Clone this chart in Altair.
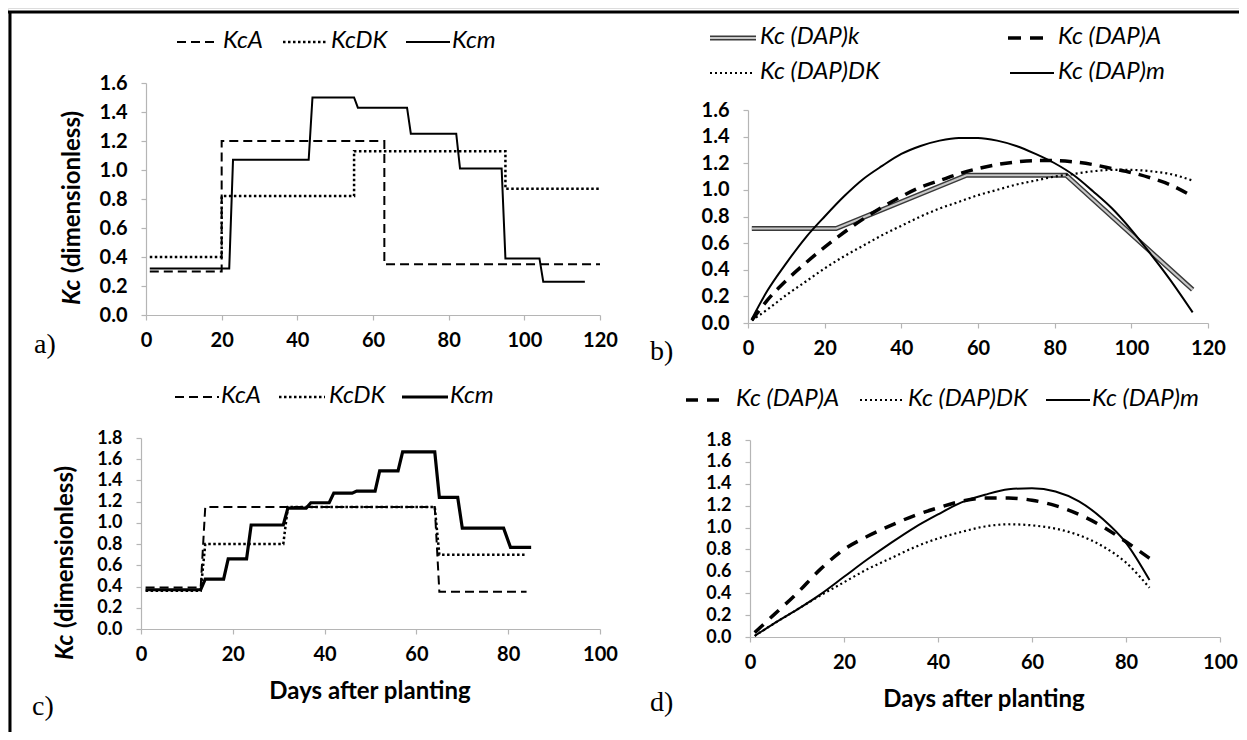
import altair as alt
import pandas as pd

# ---------------- data ----------------
# a) step Kc curves
a_kca_day = [1, 20, 20, 63, 63, 120]
a_kca_val = [0.30, 0.30, 1.20, 1.20, 0.35, 0.35]
a_kcdk_day = [1, 20, 20, 55, 55, 95, 95, 120]
a_kcdk_val = [0.40, 0.40, 0.82, 0.82, 1.13, 1.13, 0.87, 0.87]
a_kcm_day = [1, 22, 23, 43, 44, 55, 56, 69, 70, 82, 83, 94, 95, 104, 105, 116]
a_kcm_val = [0.32, 0.32, 1.07, 1.07, 1.50, 1.50, 1.43, 1.43, 1.25, 1.25,
             1.01, 1.01, 0.39, 0.39, 0.23, 0.23]

# b) Kc(DAP) curves
b_k_day = [1, 23, 57, 83, 116]
b_k_val = [0.71, 0.71, 1.11, 1.11, 0.25]
b_day = [1, 5, 10, 15, 20, 25, 30, 35, 40, 45, 50, 55, 60, 65, 70, 75, 80, 85,
         90, 95, 100, 105, 110, 116]
b_m_val = [0.03, 0.24, 0.45, 0.64, 0.80, 0.95, 1.08, 1.18, 1.27, 1.33, 1.37, 1.39,
           1.39, 1.37, 1.33, 1.27, 1.20, 1.11, 0.99, 0.86, 0.70, 0.52, 0.33, 0.08]
b_a_val = [0.02, 0.17, 0.32, 0.45, 0.57, 0.68, 0.78, 0.87, 0.95, 1.02, 1.07, 1.12,
           1.16, 1.19, 1.21, 1.22, 1.22, 1.21, 1.19, 1.16, 1.13, 1.09, 1.04, 0.95]
b_dk_val = [0.02, 0.10, 0.21, 0.31, 0.41, 0.50, 0.58, 0.66, 0.73, 0.80, 0.86, 0.91,
            0.96, 1.00, 1.04, 1.07, 1.10, 1.12, 1.14, 1.15, 1.15, 1.14, 1.12, 1.07]

# c) step Kc curves
c_kca_day = [1, 13, 14, 64, 65, 84]
c_kca_val = [0.39, 0.39, 1.15, 1.15, 0.35, 0.35]
c_kcdk_day = [1, 13, 14, 31, 32, 64, 65, 84]
c_kcdk_val = [0.36, 0.36, 0.80, 0.80, 1.15, 1.15, 0.70, 0.70]
c_kcm_day = [1, 13, 14, 18, 19, 23, 24, 31, 32, 36, 37, 41, 42, 46, 47, 51, 52, 56,
             57, 64, 65, 69, 70, 79, 80.5, 85]
c_kcm_val = [0.37, 0.37, 0.47, 0.47, 0.66, 0.66, 0.98, 0.98, 1.14, 1.14, 1.19, 1.19,
             1.28, 1.28, 1.30, 1.30, 1.49, 1.49, 1.67, 1.67, 1.24, 1.24, 0.95, 0.95,
             0.77, 0.77]

# d) Kc(DAP) curves
d_day = [1, 5, 10, 15, 20, 25, 30, 35, 40, 45, 50, 55, 60, 65, 70, 75, 80, 85]
d_a_val = [0.04, 0.20, 0.40, 0.62, 0.80, 0.92, 1.02, 1.11, 1.18, 1.24, 1.27, 1.27,
           1.25, 1.20, 1.12, 1.01, 0.87, 0.72]
d_m_val = [0.01, 0.12, 0.25, 0.39, 0.55, 0.71, 0.86, 1.00, 1.12, 1.23, 1.30, 1.35,
           1.36, 1.33, 1.24, 1.08, 0.86, 0.52]
d_dk_val = [0.01, 0.12, 0.25, 0.38, 0.50, 0.62, 0.72, 0.82, 0.90, 0.96, 1.01, 1.03,
            1.02, 0.99, 0.93, 0.83, 0.68, 0.45]

# axis ticks
ticks_120 = [0, 20, 40, 60, 80, 100, 120]
ticks_100 = [0, 20, 40, 60, 80, 100]
ticks_16 = [0.0, 0.2, 0.4, 0.6, 0.8, 1.0, 1.2, 1.4, 1.6]
ticks_18 = [0.0, 0.2, 0.4, 0.6, 0.8, 1.0, 1.2, 1.4, 1.6, 1.8]

# labels
leg_ac = ["KcA", "KcDK", "Kcm"]
leg_b = ["Kc (DAP)k", "Kc (DAP)A", "Kc (DAP)DK", "Kc (DAP)m"]
leg_d = ["Kc (DAP)A", "Kc (DAP)DK", "Kc (DAP)m"]
x_title = "Days after planting"
panel_tags = ["a)", "b)", "c)", "d)"]

# ---------------- layout / style ----------------
W, H = 1231, 724
FONT = "Lato"
GRAY = "#b5b5b5"
BLACK = "#000000"
ONE = pd.DataFrame({"k": [0]})

AX = dict(domainColor=GRAY, tickColor=GRAY, tickSize=5, domainWidth=1.2, tickWidth=1.2,
          labelFont=FONT, labelFontWeight="bold", labelColor=BLACK,
          grid=False, title=None, labelOverlap=False)


def panel(series, xdom, xr, xticks, xoff, ydom, yr, yticks, yoff, ylab=20):
    xs = alt.Scale(domain=xdom, range=xr, nice=False, zero=False)
    ys = alt.Scale(domain=ydom, range=yr, nice=False, zero=False)
    xa = alt.Axis(orient="bottom", offset=xoff, values=xticks, format="d",
                  labelFlush=False, labelPadding=10, labelFontSize=20, **AX)
    ya = alt.Axis(orient="left", offset=yoff, values=yticks, format=".1f",
                  labelPadding=14, labelFontSize=ylab, **AX)
    layers = []
    for days, vals, style in series:
        d = pd.DataFrame({"day": days, "kc": vals, "i": list(range(len(days)))})
        layers.append(
            alt.Chart(d).mark_line(**style).encode(
                x=alt.X("day:Q", scale=xs, axis=xa),
                y=alt.Y("kc:Q", scale=ys, axis=ya),
                order=alt.Order("i:Q"),
            )
        )
    return alt.layer(*layers)


def lrule(x1, x2, y, width=2.0, dash=None, color=BLACK):
    kw = dict(color=color, strokeWidth=width, strokeCap="butt")
    if dash:
        kw["strokeDash"] = dash
    return alt.Chart(ONE).mark_rule(**kw).encode(
        x=alt.value(x1), x2=alt.value(x2), y=alt.value(y))


def vrule(x, y1, y2, width=2.0, color=BLACK):
    return alt.Chart(ONE).mark_rule(color=color, strokeWidth=width).encode(
        x=alt.value(x), y=alt.value(y1), y2=alt.value(y2))


def txt(x, y, s, size=24, style="italic", weight="normal", font=FONT, align="left",
        angle=0):
    kw = dict(text=s, font=font, fontSize=size, fontStyle=style, fontWeight=weight,
              color=BLACK, align=align, baseline="middle")
    if angle:
        kw["angle"] = angle
    return alt.Chart(ONE).mark_text(**kw).encode(x=alt.value(x), y=alt.value(y))


dash_a = [9, 5]
dot = [2.5, 2.5]
dash_big = [12, 8]
TS = 24  # title size

pa = panel(
    [(a_kca_day, a_kca_val, dict(color=BLACK, strokeWidth=2, strokeDash=dash_a)),
     (a_kcdk_day, a_kcdk_val, dict(color=BLACK, strokeWidth=2.5, strokeDash=dot)),
     (a_kcm_day, a_kcm_val, dict(color=BLACK, strokeWidth=2))],
    [0, 120], [138, 592], ticks_120, 307 - H,
    [0, 1.6], [307, 75], ticks_16, -138)

pb = panel(
    [(b_k_day, b_k_val, dict(color="#3a3a3a", strokeWidth=5)),
     (b_k_day, b_k_val, dict(color="#c8c8c8", strokeWidth=2.2)),
     (b_day, b_dk_val, dict(color=BLACK, strokeWidth=2.2, strokeDash=[2, 3],
                            interpolate="monotone")),
     (b_day, b_a_val, dict(color=BLACK, strokeWidth=3.5, strokeDash=dash_big,
                           interpolate="monotone")),
     (b_day, b_m_val, dict(color=BLACK, strokeWidth=2, interpolate="monotone"))],
    [0, 120], [740, 1200], ticks_120, 315 - H,
    [0, 1.6], [315, 102], ticks_16, -740)

pc = panel(
    [(c_kca_day, c_kca_val, dict(color=BLACK, strokeWidth=2, strokeDash=dash_a)),
     (c_kcdk_day, c_kcdk_val, dict(color=BLACK, strokeWidth=2.5, strokeDash=dot)),
     (c_kcm_day, c_kcm_val, dict(color=BLACK, strokeWidth=3.2))],
    [0, 100], [133, 592], ticks_100, 621 - H,
    [0, 1.8], [621, 430], ticks_18, -133, ylab=18)

pd_ = panel(
    [(d_day, d_dk_val, dict(color=BLACK, strokeWidth=2.2, strokeDash=[2, 3],
                            interpolate="monotone")),
     (d_day, d_a_val, dict(color=BLACK, strokeWidth=3.5, strokeDash=[12, 9],
                           interpolate="monotone")),
     (d_day, d_m_val, dict(color=BLACK, strokeWidth=2, interpolate="monotone"))],
    [0, 100], [742, 1212], ticks_100, 629 - H,
    [0, 1.8], [629, 432], ticks_18, -742, ylab=18)

deco = [
    # frame
    lrule(0, W, 4, width=3),
    vrule(2, 3, H, width=3),
    # legend a
    lrule(169, 211, 34, dash=dash_a), txt(215, 33, leg_ac[0]),
    lrule(275, 319, 34, width=2.5, dash=dot), txt(323, 33, leg_ac[1]),
    lrule(398, 442, 34), txt(444, 33, leg_ac[2]),
    # legend b
    lrule(702, 748, 30, width=5, color="#3a3a3a"),
    lrule(702, 748, 30, width=2.2, color="#c8c8c8"), txt(752, 29, leg_b[0]),
    lrule(1000, 1044, 30, width=3.5, dash=[13, 9]), txt(1050, 29, leg_b[1]),
    lrule(702, 746, 65, width=2.2, dash=[2, 3]), txt(752, 64, leg_b[2]),
    lrule(1002, 1046, 65), txt(1050, 64, leg_b[3]),
    # legend c
    lrule(167, 211, 389, dash=dash_a), txt(213, 388, leg_ac[0]),
    lrule(271, 317, 389, width=2.5, dash=dot), txt(321, 388, leg_ac[1]),
    lrule(394, 440, 389, width=3.2), txt(442, 388, leg_ac[2]),
    # legend d
    lrule(678, 712, 392, width=3.5, dash=[12, 9]), txt(728, 391, leg_d[0]),
    lrule(852, 896, 392, width=2.2, dash=[2, 3]), txt(900, 391, leg_d[1]),
    lrule(1038, 1082, 392), txt(1084, 391, leg_d[2]),
    # y titles (Kc italic)
    txt(65, 297, "Kc", size=TS, style="italic", weight="bold", angle=270),
    txt(65, 265, "(dimensionless)", size=TS, style="normal", weight="bold", angle=270),
    txt(58, 652, "Kc", size=TS, style="italic", weight="bold", angle=270),
    txt(58, 620, "(dimensionless)", size=TS, style="normal", weight="bold", angle=270),
    # x titles
    txt(362, 684, x_title, size=TS, style="normal", weight="bold", align="center"),
    txt(976, 692, x_title, size=TS, style="normal", weight="bold", align="center"),
    # panel tags
    txt(26, 337, panel_tags[0], size=28, style="normal", font="Liberation Serif"),
    txt(642, 344, panel_tags[1], size=28, style="normal", font="Liberation Serif"),
    txt(24, 699, panel_tags[2], size=28, style="normal", font="Liberation Serif"),
    txt(642, 695, panel_tags[3], size=28, style="normal", font="Liberation Serif"),
]

chart = (
    alt.layer(pa, pb, pc, pd_, *deco)
    .resolve_scale(x="independent", y="independent")
    .resolve_axis(x="independent", y="independent")
    .properties(width=W, height=H, padding=0,
                autosize=alt.AutoSizeParams(type="none"))
    .configure_view(stroke=None)
    .configure(background="white")
)

chart.save("out.html", embed_options={"renderer": "svg", "actions": False})
